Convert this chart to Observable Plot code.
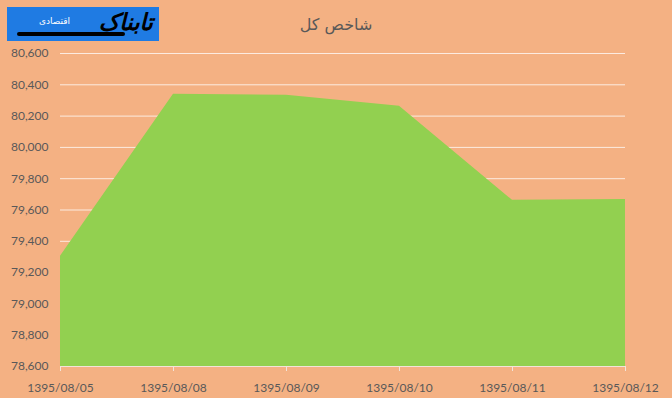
<!DOCTYPE html>
<html>
<head>
<meta charset="utf-8">
<script src="https://cdn.jsdelivr.net/npm/d3@7"></script>
<script src="https://cdn.jsdelivr.net/npm/@observablehq/plot@0.6"></script>
<style>
  html, body { margin: 0; padding: 0; background: #ffffff; }
  #chart { position: relative; width: 672px; height: 398px; background: #F4B183; overflow: hidden; }
  #header { position: relative; height: 40px; }
  #logo { position: absolute; left: 7px; top: 7px; width: 152px; height: 34px; background: #1F7BE3; }
  #logo .main { position: absolute; right: 6px; top: 1px; line-height: 28px; font-family: "DejaVu Sans"; font-weight: bold; font-style: italic; font-size: 23px; color: #000; direction: rtl; }
  #logo .sub { position: absolute; left: 32px; top: 8px; line-height: 12px; font-family: "DejaVu Sans"; font-size: 9px; color: #fff; direction: rtl; }
  #logo .swoosh { position: absolute; left: 10px; top: 25px; width: 108px; height: 4px; background: #000; border-radius: 3px; }
  #title { position: absolute; left: 0; width: 672px; top: 15px; text-align: center; font-family: "DejaVu Sans"; font-size: 16px; color: #595959; direction: rtl; }
</style>
</head>
<body>
<div id="chart">
  <div id="header">
    <div id="logo"><span class="sub">اقتصادی</span><span class="main">تابناک</span><div class="swoosh"></div></div>
    <div id="title">شاخص کل</div>
  </div>
</div>
<script>
const dates = ["1395/08/05", "1395/08/08", "1395/08/09", "1395/08/10", "1395/08/11", "1395/08/12"];
const values = [79304, 80339, 80333, 80263, 79662, 79667];
const yTicks = [78600, 78800, 79000, 79200, 79400, 79600, 79800, 80000, 80200, 80400, 80600];

const data = dates.map((d, i) => ({date: d, value: values[i]}));
const yMin = yTicks[0];

const plot = Plot.plot({
  width: 672,
  height: 364,
  marginTop: 13,
  marginBottom: 38,
  marginLeft: 60,
  marginRight: 47,
  style: {background: "transparent", fontFamily: "Lato", fontSize: "12px", color: "#595959", overflow: "visible"},
  x: {type: "point", domain: dates, padding: 0, label: null},
  y: {domain: [yTicks[0], yTicks[yTicks.length - 1]], label: null},
  marks: [
    Plot.gridY(yTicks, {stroke: "#ffffff", strokeOpacity: 0.75, strokeWidth: 1}),
    Plot.areaY(data, {x: "date", y1: yMin, y2: "value", fill: "#92D050", curve: "linear"}),
    Plot.ruleY([yMin], {stroke: "#f2e4da", strokeWidth: 1}),
    Plot.axisY(yTicks, {tickSize: 0, tickPadding: 12, tickFormat: d3.format(","), fill: "#595959", label: null}),
    Plot.axisX({tickSize: 5, tickPadding: 12, stroke: "#f2e4da", fill: "#595959", label: null})
  ]
});
document.getElementById("chart").appendChild(plot);
</script>
</body>
</html>
